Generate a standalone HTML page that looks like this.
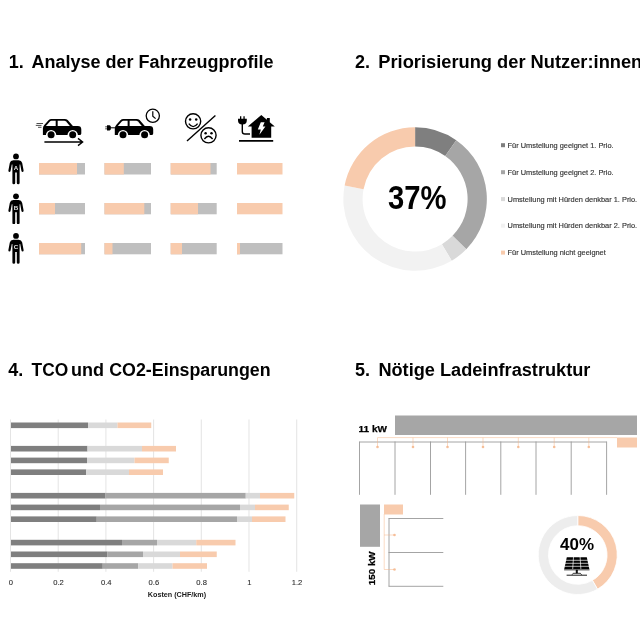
<!DOCTYPE html>
<html><head><meta charset="utf-8">
<style>
html,body{margin:0;padding:0;background:#fff;}
body{width:640px;height:640px;overflow:hidden;position:relative;font-family:"Liberation Sans",sans-serif;}
svg{position:absolute;left:0;top:0;will-change:transform;opacity:0.999;}
text{font-family:"Liberation Sans",sans-serif;}
.h{font-size:18px;font-weight:bold;fill:#000;}
.lg{font-size:7.4px;fill:#333;stroke:#333;stroke-width:0.15px;}
.ax{font-size:7.6px;fill:#2b2b2b;stroke:#2b2b2b;stroke-width:0.1px;text-anchor:middle;}
</style></head><body>
<svg width="640" height="640" viewBox="0 0 640 640">
<!-- ===== HEADINGS ===== -->
<text class="h" x="8.7" y="68">1.</text><text class="h" x="31.4" y="68">Analyse der Fahrzeugprofile</text>
<text class="h" x="355" y="68">2.</text><text class="h" x="378.3" y="68" textLength="264" lengthAdjust="spacingAndGlyphs">Priorisierung der Nutzer:innen</text>
<text class="h" x="8.2" y="376.4">4.</text><text class="h" x="31.6" y="376.4" textLength="36.6" lengthAdjust="spacingAndGlyphs">TCO</text><text class="h" x="71" y="376.4" textLength="33" lengthAdjust="spacingAndGlyphs">und</text><text class="h" x="109.2" y="376.4" textLength="161.5" lengthAdjust="spacingAndGlyphs">CO2-Einsparungen</text>
<text class="h" x="355" y="376.4">5.</text><text class="h" x="378.4" y="376.4" textLength="212" lengthAdjust="spacingAndGlyphs">Nötige Ladeinfrastruktur</text>

<!-- ===== SECTION 1 ===== -->
<defs>
<g id="car">
  <path d="M0.6 16.2 V9.6 Q0.6 7.4 2.2 5.8 L6.2 1.4 Q7.4 0 9.2 0 H22.4 Q24.2 0 25.4 1.2 L30.6 7.2 H35.5 Q39 7.2 39 10.6 V14.6 Q39 16.2 37.2 16.2 H35.6 A5.2 5.2 0 0 0 25.2 16.2 H14 A5.2 5.2 0 0 0 3.6 16.2 Z" fill="#000"/>
  <path d="M3.6 7 L7.8 2.4 Q8.4 1.8 9.2 1.8 H13.4 V7 Z" fill="#fff"/>
  <path d="M15.4 1.8 H22 Q23 1.8 23.8 2.6 L27.6 7 H15.4 Z" fill="#fff"/>
  <circle cx="8.8" cy="15.8" r="3.5" fill="#000"/>
  <circle cx="30.4" cy="15.8" r="3.5" fill="#000"/>
</g>
<g id="person">
  <circle cx="8" cy="3.4" r="2.9" fill="#000"/>
  <path d="M5.4 7.2 H10.6 Q13.6 7.4 14.2 10 L15.6 17.6 Q15.8 19 14.6 19 Q13.6 19 13.4 17.8 L12.2 11.4 H11.6 V30 Q11.6 31.2 10.2 31.2 Q8.8 31.2 8.8 30 V19.4 H7.2 V30 Q7.2 31.2 5.8 31.2 Q4.4 31.2 4.4 30 V11.4 H3.8 L2.6 17.8 Q2.4 19 1.4 19 Q0.2 19 0.4 17.6 L1.8 10 Q2.4 7.4 5.4 7.2 Z" fill="#000"/>
</g>
</defs>

<!-- car 1 -->
<use href="#car" x="42.3" y="118.9"/>
<g stroke="#000" stroke-width="0.7" fill="none">
  <path d="M36.5 123.5 H43 M35.8 125.4 H41.5 M38 127.3 H41.5"/>
</g>
<path d="M44.4 142 H82.4 M78 138.4 L82.6 142 L78 145.6" stroke="#000" stroke-width="1.4" fill="none"/>
<!-- car 2 -->
<use href="#car" x="114.2" y="118.9"/>
<path d="M110.5 127.8 H115" stroke="#000" stroke-width="1" fill="none"/>
<path d="M105.2 126.4 H107 V125.2 H109.6 Q111 125.2 111 127.8 Q111 130.4 109.6 130.4 H107 V129.2 H105.2 V128.4 H107 V127.2 H105.2 Z" fill="#000"/>
<circle cx="152.8" cy="115.8" r="6.6" fill="#fff" stroke="#000" stroke-width="1.3"/>
<path d="M152.8 111.2 V116.2 L155.6 118.6" stroke="#000" stroke-width="1.2" fill="none"/>
<!-- smileys -->
<g stroke="#000" fill="none" stroke-width="1.4">
  <circle cx="193.1" cy="121.3" r="7.6"/>
  <circle cx="208.5" cy="135.3" r="7.6"/>
  <path d="M187 141 L215.4 115.4"/>
  <path d="M188.8 123.6 Q193.1 129.6 197.6 123.6"/>
  <path d="M204.4 139 Q208.5 133.4 212.6 139"/>
</g>
<circle cx="190.1" cy="119.4" r="1.25" fill="#000"/><circle cx="196.2" cy="119.4" r="1.25" fill="#000"/>
<circle cx="205.6" cy="133.2" r="1.25" fill="#000"/><circle cx="211.5" cy="133.2" r="1.25" fill="#000"/>
<!-- house + plug -->
<path d="M261.3 115 L266.9 119.8 V118 H269.8 V122.2 L274.8 126.4 H271.2 V137.8 H251.6 V126.4 H247.8 Z" fill="#000"/>
<path d="M260.8 122.2 H264.6 L262.8 126.6 H265.4 L259.4 134.8 L260.8 129.4 H257.8 Z" fill="#fff"/>
<path d="M239 140.9 H273.2" stroke="#000" stroke-width="1.7" fill="none"/>
<path d="M242.3 124 V131.4 Q242.3 134 245 134 H250" stroke="#000" stroke-width="1.4" fill="none"/>
<path d="M238 118.8 H240 V116.2 H241.3 V118.8 H243.4 V116.2 H244.7 V118.8 H246.8 V120.6 Q246.8 124.4 242.4 124.6 Q238 124.4 238 120.6 Z" fill="#000"/>

<!-- persons -->
<use href="#person" x="8" y="153"/>
<use href="#person" x="8" y="192.9"/>
<use href="#person" x="8" y="232.5"/>
<g font-size="6.2" font-weight="bold" fill="#e6e6e6" text-anchor="middle">
<text x="16" y="169.8">A</text><text x="16" y="209.8">B</text><text x="16" y="249.3">C</text>
</g>

<!-- bars -->
<g>
<!-- row1 -->
<rect x="39" y="163" width="46" height="11.5" fill="#BFBFBF"/><rect x="39" y="163" width="38" height="11.5" fill="#F8CBAD"/>
<rect x="104.5" y="163" width="46.5" height="11.5" fill="#BFBFBF"/><rect x="104.5" y="163" width="19.3" height="11.5" fill="#F8CBAD"/>
<rect x="170.7" y="163" width="46" height="11.5" fill="#BFBFBF"/><rect x="170.7" y="163" width="39.8" height="11.5" fill="#F8CBAD"/>
<rect x="237" y="163" width="45.5" height="11.5" fill="#F8CBAD"/>
<!-- row2 -->
<rect x="39" y="203" width="46" height="11.3" fill="#BFBFBF"/><rect x="39" y="203" width="16" height="11.3" fill="#F8CBAD"/>
<rect x="104.5" y="203" width="46.5" height="11.3" fill="#BFBFBF"/><rect x="104.5" y="203" width="39.8" height="11.3" fill="#F8CBAD"/>
<rect x="170.7" y="203" width="46" height="11.3" fill="#BFBFBF"/><rect x="170.7" y="203" width="27.3" height="11.3" fill="#F8CBAD"/>
<rect x="237" y="203" width="45.5" height="11.3" fill="#F8CBAD"/>
<!-- row3 -->
<rect x="39" y="243" width="46" height="11.3" fill="#BFBFBF"/><rect x="39" y="243" width="42.2" height="11.3" fill="#F8CBAD"/>
<rect x="104.5" y="243" width="46.5" height="11.3" fill="#BFBFBF"/><rect x="104.5" y="243" width="8" height="11.3" fill="#F8CBAD"/>
<rect x="170.7" y="243" width="46" height="11.3" fill="#BFBFBF"/><rect x="170.7" y="243" width="11.3" height="11.3" fill="#F8CBAD"/>
<rect x="237" y="243" width="45.5" height="11.3" fill="#BFBFBF"/><rect x="237" y="243" width="3" height="11.3" fill="#F8CBAD"/>
</g>

<!-- ===== SECTION 2 ===== -->
<path d="M415.10 127.25 A71.75 71.75 0 0 1 456.25 140.23 L445.21 155.99 A52.5 52.5 0 0 0 415.10 146.50 Z" fill="#7F7F7F"/>
<path d="M456.25 140.23 A71.75 71.75 0 0 1 466.28 249.29 L452.55 235.80 A52.5 52.5 0 0 0 445.21 155.99 Z" fill="#A6A6A6"/>
<path d="M466.28 249.29 A71.75 71.75 0 0 1 451.73 260.69 L441.90 244.14 A52.5 52.5 0 0 0 452.55 235.80 Z" fill="#D9D9D9"/>
<path d="M451.73 260.69 A71.75 71.75 0 0 1 344.62 185.56 L363.53 189.16 A52.5 52.5 0 0 0 441.90 244.14 Z" fill="#F2F2F2"/>
<path d="M344.62 185.56 A71.75 71.75 0 0 1 415.10 127.25 L415.10 146.50 A52.5 52.5 0 0 0 363.53 189.16 Z" fill="#F8CBAD"/>
<text x="417.3" y="209" text-anchor="middle" font-size="33" font-weight="bold" fill="#000" textLength="58.5" lengthAdjust="spacingAndGlyphs">37%</text>
<rect x="501" y="143.2" width="4" height="4" fill="#7F7F7F"/><text class="lg" x="507.6" y="147.9">Für Umstellung geeignet 1. Prio.</text>
<rect x="501" y="170.2" width="4" height="4" fill="#A6A6A6"/><text class="lg" x="507.6" y="174.9">Für Umstellung geeignet 2. Prio.</text>
<rect x="501" y="197.1" width="4" height="4" fill="#D9D9D9"/><text class="lg" x="507.6" y="201.8" textLength="129.6" lengthAdjust="spacingAndGlyphs">Umstellung mit Hürden denkbar 1. Prio.</text>
<rect x="501" y="223.7" width="4" height="4" fill="#F2F2F2"/><text class="lg" x="507.6" y="228.4" textLength="129.6" lengthAdjust="spacingAndGlyphs">Umstellung mit Hürden denkbar 2. Prio.</text>
<rect x="501" y="250.6" width="4" height="4" fill="#F8CBAD"/><text class="lg" x="507.6" y="255.3">Für Umstellung nicht geeignet</text>

<!-- ===== SECTION 4 ===== -->
<g stroke="#D9D9D9" stroke-width="0.7">
<path d="M10.50 419.5 V571.8"/><path d="M58.20 419.5 V571.8"/><path d="M105.90 419.5 V571.8"/><path d="M153.60 419.5 V571.8"/><path d="M201.30 419.5 V571.8"/><path d="M249.00 419.5 V571.8"/><path d="M296.70 419.5 V571.8"/>
</g>
<rect x="11.00" y="422.50" width="77.00" height="5.6" fill="#7F7F7F"/><rect x="88.00" y="422.50" width="29.50" height="5.6" fill="#D9D9D9"/><rect x="117.50" y="422.50" width="33.75" height="5.6" fill="#F8CBAD"/>
<rect x="11.00" y="445.90" width="76.50" height="5.6" fill="#7F7F7F"/><rect x="87.50" y="445.90" width="54.50" height="5.6" fill="#D9D9D9"/><rect x="142.00" y="445.90" width="34.00" height="5.6" fill="#F8CBAD"/>
<rect x="11.00" y="457.60" width="76.00" height="5.6" fill="#7F7F7F"/><rect x="87.00" y="457.60" width="47.50" height="5.6" fill="#D9D9D9"/><rect x="134.50" y="457.60" width="34.25" height="5.6" fill="#F8CBAD"/>
<rect x="11.00" y="469.40" width="75.25" height="5.6" fill="#7F7F7F"/><rect x="86.25" y="469.40" width="42.75" height="5.6" fill="#D9D9D9"/><rect x="129.00" y="469.40" width="34.00" height="5.6" fill="#F8CBAD"/>
<rect x="11.00" y="492.90" width="94.50" height="5.6" fill="#7F7F7F"/><rect x="105.50" y="492.90" width="140.25" height="5.6" fill="#A6A6A6"/><rect x="245.75" y="492.90" width="14.25" height="5.6" fill="#D9D9D9"/><rect x="260.00" y="492.90" width="34.25" height="5.6" fill="#F8CBAD"/>
<rect x="11.00" y="504.60" width="89.00" height="5.6" fill="#7F7F7F"/><rect x="100.00" y="504.60" width="140.00" height="5.6" fill="#A6A6A6"/><rect x="240.00" y="504.60" width="15.00" height="5.6" fill="#D9D9D9"/><rect x="255.00" y="504.60" width="33.75" height="5.6" fill="#F8CBAD"/>
<rect x="11.00" y="516.40" width="85.75" height="5.6" fill="#7F7F7F"/><rect x="96.75" y="516.40" width="140.25" height="5.6" fill="#A6A6A6"/><rect x="237.00" y="516.40" width="15.00" height="5.6" fill="#D9D9D9"/><rect x="252.00" y="516.40" width="33.50" height="5.6" fill="#F8CBAD"/>
<rect x="11.00" y="539.80" width="111.00" height="5.6" fill="#7F7F7F"/><rect x="122.00" y="539.80" width="35.00" height="5.6" fill="#A6A6A6"/><rect x="157.00" y="539.80" width="39.25" height="5.6" fill="#D9D9D9"/><rect x="196.25" y="539.80" width="39.25" height="5.6" fill="#F8CBAD"/>
<rect x="11.00" y="551.50" width="96.50" height="5.6" fill="#7F7F7F"/><rect x="107.50" y="551.50" width="35.50" height="5.6" fill="#A6A6A6"/><rect x="143.00" y="551.50" width="37.00" height="5.6" fill="#D9D9D9"/><rect x="180.00" y="551.50" width="36.75" height="5.6" fill="#F8CBAD"/>
<rect x="11.00" y="563.20" width="91.75" height="5.6" fill="#7F7F7F"/><rect x="102.75" y="563.20" width="35.50" height="5.6" fill="#A6A6A6"/><rect x="138.25" y="563.20" width="34.25" height="5.6" fill="#D9D9D9"/><rect x="172.50" y="563.20" width="34.50" height="5.6" fill="#F8CBAD"/>
<text class="ax" x="10.80" y="585.2">0</text><text class="ax" x="58.50" y="585.2">0.2</text><text class="ax" x="106.20" y="585.2">0.4</text><text class="ax" x="153.90" y="585.2">0.6</text><text class="ax" x="201.60" y="585.2">0.8</text><text class="ax" x="249.30" y="585.2">1</text><text class="ax" x="297.00" y="585.2">1.2</text>
<text x="177" y="597" text-anchor="middle" font-size="7.2" font-weight="bold" fill="#1a1a1a">Kosten (CHF/km)</text>

<!-- ===== SECTION 5 ===== -->
<rect x="395" y="415.5" width="242" height="19.5" fill="#A6A6A6"/>
<text x="358.6" y="431.6" font-size="9.2" font-weight="bold" fill="#000" stroke="#000" stroke-width="0.25" textLength="28.4" lengthAdjust="spacingAndGlyphs">11 kW</text>
<g stroke="#9A9A9A" stroke-width="0.9" fill="none">
<path d="M359.5 442 H606.6"/><path d="M359.5 441.5 V494.8"/><path d="M395 441.5 V494.8"/><path d="M430.5 441.5 V494.8"/><path d="M465.6 441.5 V494.8"/><path d="M500.8 441.5 V494.8"/><path d="M536 441.5 V494.8"/><path d="M571.2 441.5 V494.8"/><path d="M606.6 441.5 V494.8"/>
<path d="M389 518.5 V586.3 M388.5 518.5 H443.3 M388.5 552.5 H443.3 M388.5 586.3 H443.3"/>
</g>
<g stroke="#F4B183" stroke-width="0.6" fill="none" opacity="0.8">
<path d="M377.5 437.6 H617"/><path d="M377.5 437.6 V447"/><path d="M413 437.6 V447"/><path d="M447.5 437.6 V447"/><path d="M483 437.6 V447"/><path d="M518.3 437.6 V447"/><path d="M554.2 437.6 V447"/><path d="M588.8 437.6 V447"/><path d="M384.2 514 V569.5 M384.2 535 H394.5 M384.2 569.5 H394.5"/>
</g>
<g fill="#F4B183" opacity="0.8"><circle cx="377.5" cy="447" r="1.3"/><circle cx="413" cy="447" r="1.3"/><circle cx="447.5" cy="447" r="1.3"/><circle cx="483" cy="447" r="1.3"/><circle cx="518.3" cy="447" r="1.3"/><circle cx="554.2" cy="447" r="1.3"/><circle cx="588.8" cy="447" r="1.3"/><circle cx="394.5" cy="535" r="1.3"/><circle cx="394.5" cy="569.5" r="1.3"/></g>
<rect x="617" y="437.5" width="20" height="10" fill="#F8CBAD"/>
<rect x="360" y="504.5" width="20" height="42.3" fill="#A6A6A6"/>
<rect x="384" y="504.5" width="19" height="10" fill="#F8CBAD"/>
<text transform="translate(374.6 585.2) rotate(-90)" font-size="9.2" font-weight="bold" fill="#000" stroke="#000" stroke-width="0.25" textLength="33.8" lengthAdjust="spacingAndGlyphs">150 kW</text>
<path d="M577.75 515.50 A39.5 39.5 0 0 1 597.50 589.21 L592.40 580.37 A29.3 29.3 0 0 0 577.75 525.70 Z" fill="#F8CBAD" stroke="#fff" stroke-width="0.8"/>
<path d="M597.50 589.21 A39.5 39.5 0 1 1 577.75 515.50 L577.75 525.70 A29.3 29.3 0 1 0 592.40 580.37 Z" fill="#EDEDED" stroke="#fff" stroke-width="0.8"/>
<text x="577" y="549.7" text-anchor="middle" font-size="16.8" font-weight="bold" fill="#000" textLength="34" lengthAdjust="spacingAndGlyphs">40%</text>
<g id="solar">
<path d="M566.8 557.2 H586.8 L589.4 569.2 H564.2 Z" fill="#000"/>
<g stroke="#fff" stroke-width="0.7" fill="none">
<path d="M565.4 560.3 H588.2 M564.8 563.3 H588.8 M564.2 566.3 H589.4"/>
<path d="M573.5 557 L572.7 569.4 M580.1 557 L580.9 569.4"/>
</g>
<path d="M564.1 569.9 H589.5" stroke="#000" stroke-width="0.7"/>
<path d="M576.1 570 V573 H577.5 V570 Z" fill="#000" stroke="#000" stroke-width="0.5"/>
<path d="M572 574.8 L573.2 573.3 H580.4 L581.6 574.8" stroke="#000" stroke-width="0.8" fill="none"/>
<path d="M566.6 575.2 H587" stroke="#000" stroke-width="0.9"/>
</g>
</svg>
</body></html>
